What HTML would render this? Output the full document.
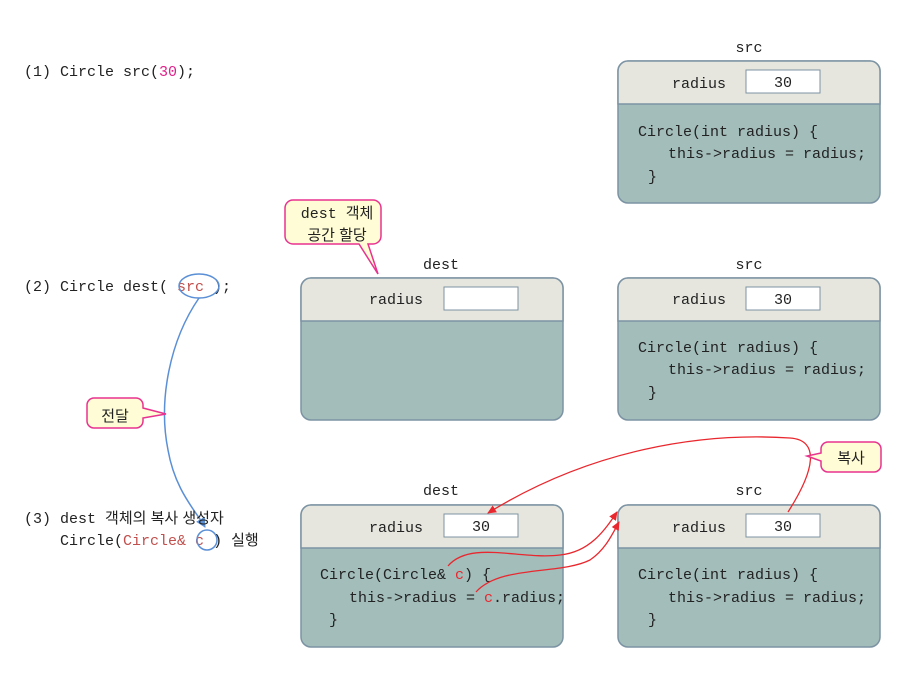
<!DOCTYPE html>
<html><head><meta charset="utf-8"><style>
body{margin:0;background:#fff}
text{font-family:"Liberation Mono","Noto Sans CJK KR",monospace;font-size:15px;fill:#222}
.k{font-family:"Liberation Sans","Noto Sans CJK KR",sans-serif;font-size:15px}
</style></head><body>
<svg width="902" height="671" viewBox="0 0 902 671" xmlns="http://www.w3.org/2000/svg">
<defs>
<marker id="ar" markerWidth="10" markerHeight="10" refX="8" refY="5" orient="auto" markerUnits="userSpaceOnUse"><path d="M0,1 L9,5 L0,9 Z" fill="#e8282e"/></marker>
<marker id="ab" markerWidth="12" markerHeight="12" refX="9" refY="6" orient="auto" markerUnits="userSpaceOnUse"><path d="M0,1 L10,6 L0,11 Z" fill="#5b8fd6"/></marker>
<g id="box">
<rect x="0" y="0" width="262" height="142" rx="10" fill="#a3bdbb" stroke="#7c93a3" stroke-width="1.5"/>
<path d="M0,10 a10,10 0 0 1 10,-10 h242 a10,10 0 0 1 10,10 v33 h-262 z" fill="#e6e6df" stroke="#7c93a3" stroke-width="1.5"/>
</g>
</defs>
<!-- row 1 -->
<text x="24" y="76">(1) Circle src(<tspan fill="#e0208a">30</tspan>);</text>
<text x="749" y="52" text-anchor="middle">src</text>
<use href="#box" x="618" y="61"/>
<text x="672" y="88">radius</text>
<rect x="746" y="70" width="74" height="23" fill="#fff" stroke="#7c93a3"/>
<text x="783" y="87" text-anchor="middle" fill="#e8282e">30</text>
<text x="638" y="136">Circle(int radius) {</text>
<text x="668" y="158">this-&gt;radius = radius;</text>
<text x="648" y="181">}</text>
<!-- row 2 -->
<text x="24" y="291">(2) Circle dest( <tspan fill="#c0504d">src</tspan> );</text>
<ellipse cx="199" cy="286" rx="20" ry="12" fill="none" stroke="#5b8fd6" stroke-width="1.5"/>
<path d="M293,200 h80 a8,8 0 0 1 8,8 v28 a8,8 0 0 1 -8,8 h-5 l10,30 l-19,-30 h-66 a8,8 0 0 1 -8,-8 v-28 a8,8 0 0 1 8,-8z" fill="#fffcd6" stroke="#e8328f" stroke-width="1.5"/>
<text x="337" y="218" text-anchor="middle">dest <tspan class="k">객체</tspan></text>
<text x="337" y="240" text-anchor="middle" class="k">공간 할당</text>
<text x="441" y="269" text-anchor="middle">dest</text>
<use href="#box" x="301" y="278"/>
<text x="369" y="304">radius</text>
<rect x="444" y="287" width="74" height="23" fill="#fff" stroke="#7c93a3"/>
<text x="749" y="269" text-anchor="middle">src</text>
<use href="#box" x="618" y="278"/>
<text x="672" y="304">radius</text>
<rect x="746" y="287" width="74" height="23" fill="#fff" stroke="#7c93a3"/>
<text x="783" y="304" text-anchor="middle">30</text>
<text x="638" y="352">Circle(int radius) {</text>
<text x="668" y="374">this-&gt;radius = radius;</text>
<text x="648" y="397">}</text>
<!-- blue connector -->
<path d="M199,298 C170,340 158,400 168,450 C175,490 195,510 205,527" fill="none" stroke="#5b8fd6" stroke-width="1.5" marker-end="url(#ab)"/>
<path d="M94,398 h42 a7,7 0 0 1 7,7 v3 l23,6 l-23,4 v3 a7,7 0 0 1 -7,7 h-42 a7,7 0 0 1 -7,-7 v-16 a7,7 0 0 1 7,-7z" fill="#fffcd6" stroke="#e8328f" stroke-width="1.5"/>
<text x="115" y="421" text-anchor="middle" class="k">전달</text>
<!-- row 3 -->
<text x="24" y="523">(3) dest <tspan class="k">객체의 복사 생성자</tspan></text>
<text x="60" y="545">Circle(<tspan fill="#c0504d">Circle&amp;</tspan> <tspan fill="#c0504d">c</tspan> ) <tspan class="k">실행</tspan></text>
<circle cx="207" cy="540" r="10" fill="none" stroke="#5b8fd6" stroke-width="1.5"/>
<text x="441" y="495" text-anchor="middle">dest</text>
<use href="#box" x="301" y="505"/>
<text x="369" y="532">radius</text>
<rect x="444" y="514" width="74" height="23" fill="#fff" stroke="#7c93a3"/>
<text x="481" y="531" text-anchor="middle" fill="#e8282e">30</text>
<text x="320" y="579">Circle(Circle&amp; <tspan fill="#e8282e">c</tspan>) {</text>
<text x="349" y="602">this-&gt;radius = <tspan fill="#e8282e">c</tspan>.radius;</text>
<text x="329" y="624">}</text>
<text x="749" y="495" text-anchor="middle">src</text>
<use href="#box" x="618" y="505"/>
<text x="672" y="532">radius</text>
<rect x="746" y="514" width="74" height="23" fill="#fff" stroke="#7c93a3"/>
<text x="783" y="531" text-anchor="middle">30</text>
<text x="638" y="579">Circle(int radius) {</text>
<text x="668" y="602">this-&gt;radius = radius;</text>
<text x="648" y="624">}</text>
<!-- red connectors -->
<path d="M788,512 C815,470 820,440 790,438 C700,432 590,450 488,513" fill="none" stroke="#e8282e" stroke-width="1.3" marker-end="url(#ar)"/>
<path d="M448,566 C470,540 520,560 560,555 C590,552 605,530 617,512" fill="none" stroke="#e8282e" stroke-width="1.3" marker-end="url(#ar)"/>
<path d="M476,592 C500,565 560,575 590,560 C605,550 612,535 619,522" fill="none" stroke="#e8282e" stroke-width="1.3" marker-end="url(#ar)"/>
<path d="M828,442 h46 a7,7 0 0 1 7,7 v16 a7,7 0 0 1 -7,7 h-46 a7,7 0 0 1 -7,-7 v-4 l-14,-5 l14,-3 v-4 a7,7 0 0 1 7,-7z" fill="#fffcd6" stroke="#e8328f" stroke-width="1.5"/>
<text x="851" y="463" text-anchor="middle" class="k">복사</text>
</svg>
</body></html>
